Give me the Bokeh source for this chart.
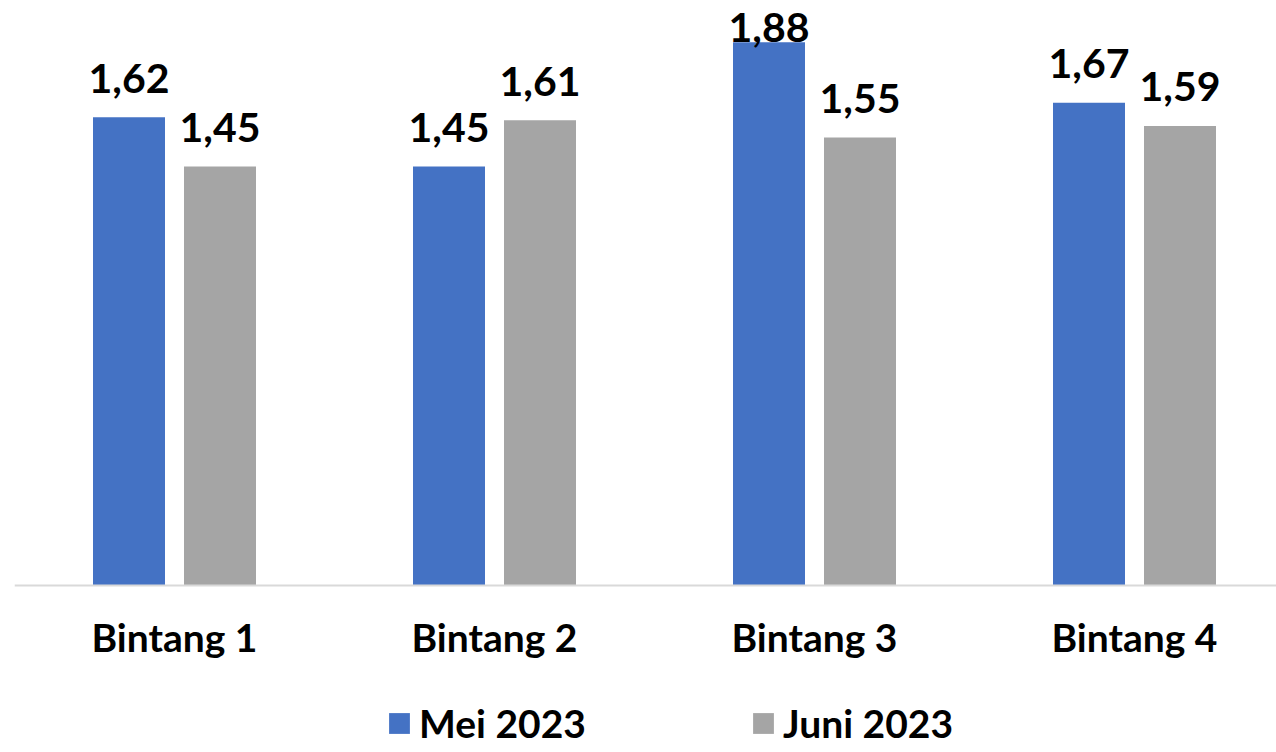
from bokeh.plotting import figure
from bokeh.models import ColumnDataSource, Range1d, FixedTicker, Legend, LegendItem
from bokeh.core.properties import value
from bokeh.embed import file_html
from bokeh.resources import INLINE
import numpy as np

# ---- data ----
categories = ["Bintang 1", "Bintang 2", "Bintang 3", "Bintang 4"]
mei_2023 = [1.62, 1.45, 1.88, 1.67]
juni_2023 = [1.45, 1.61, 1.55, 1.59]
series_names = ["Mei 2023", "Juni 2023"]
series_colors = ["#4472C4", "#A5A5A5"]

# ---- layout constants (pixels) ----
W, H = 1276, 752
LEFT = 14            # frame left edge
BASE = 585           # baseline (value 0) from top
PX = 289.0           # pixels per unit on the value axis
CAT_PX = 320.0       # pixels per category
OFFSET = 45.5 / CAT_PX
BAR_W = 72 / CAT_PX
FONT = "Lato"

Y_END = BASE / PX
Y_START = -(H - BASE) / PX
xc = np.arange(len(categories)) + 0.5


def fmt(v):
    return f"{v:.2f}".replace(".", ",")


def label_y(vals):
    v = np.asarray(vals, dtype=float)
    return np.minimum(v + 39 / PX, Y_END - 27 / PX)


p = figure(frame_width=W - LEFT, frame_height=H, output_backend="svg",
           toolbar_location=None,
           x_range=Range1d(0, (W - LEFT) / CAT_PX), y_range=Range1d(Y_START, Y_END),
           min_border_left=LEFT, min_border_right=0, min_border_top=0,
           min_border_bottom=0)

renderers = []
for vals, off, col in zip([mei_2023, juni_2023], [-OFFSET, OFFSET], series_colors):
    src = ColumnDataSource(dict(x=xc + off, top=vals, ly=label_y(vals),
                                txt=[fmt(v) for v in vals]))
    r = p.vbar(x="x", top="top", width=BAR_W, bottom=0, source=src,
               fill_color=col, line_color=None)
    renderers.append(r)
    p.text(x="x", y="ly", text="txt", source=src, text_align="center",
           text_baseline="alphabetic", text_font=value(FONT),
           text_font_style="bold", text_font_size="41px", text_color="#000000")

p.xaxis.fixed_location = 0
p.xaxis.ticker = FixedTicker(ticks=list(xc))
p.xaxis.major_label_overrides = {float(x): c for x, c in zip(xc, categories)}
p.xaxis.major_tick_in = 0
p.xaxis.major_tick_out = 0
p.xaxis.minor_tick_in = 0
p.xaxis.minor_tick_out = 0
p.xaxis.axis_line_color = "#D9D9D9"
p.xaxis.axis_line_width = 2
p.xaxis.major_label_standoff = 28
p.xaxis.major_label_text_font = FONT
p.xaxis.major_label_text_font_style = "bold"
p.xaxis.major_label_text_font_size = "39px"
p.xaxis.major_label_text_color = "#000000"
p.yaxis.visible = False
p.grid.visible = False
p.outline_line_color = None

legend = Legend(items=[LegendItem(label=n, renderers=[r]) for n, r in zip(series_names, renderers)],
                orientation="horizontal", location=(386 - LEFT, 6),
                label_text_font=FONT, label_text_font_style="bold",
                label_text_font_size="39px", label_text_color="#000000",
                glyph_width=26, glyph_height=26, label_height=40, label_standoff=7,
                spacing=164, padding=0, margin=0,
                border_line_color=None, background_fill_alpha=0)
p.add_layout(legend, "center")

open("out.html", "w").write(file_html(p, INLINE))
